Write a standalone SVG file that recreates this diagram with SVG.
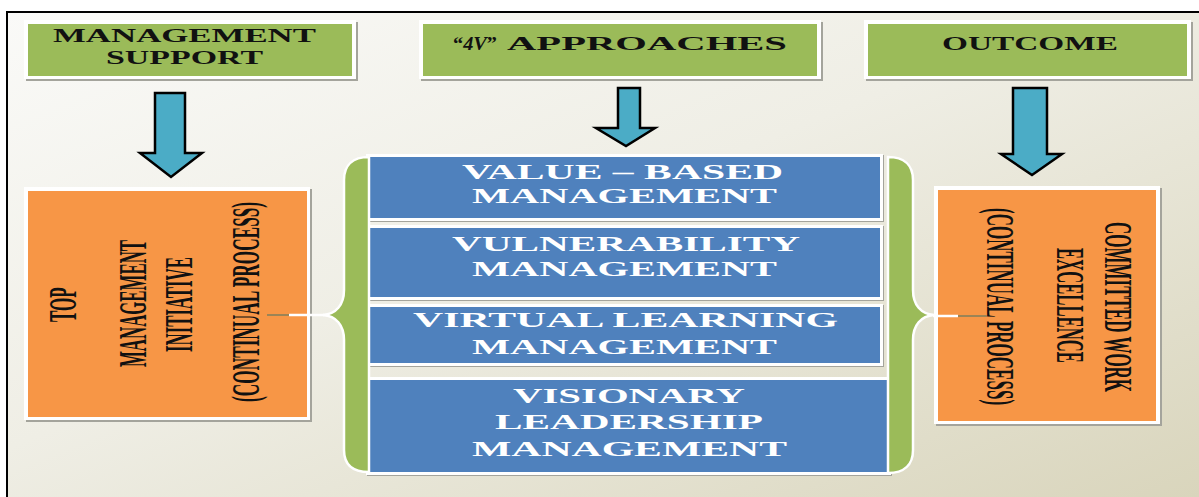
<svg xmlns="http://www.w3.org/2000/svg" width="1199" height="497" viewBox="0 0 1199 497">
  <defs>
    <linearGradient id="bg" x1="0" y1="0" x2="1" y2="1">
      <stop offset="0" stop-color="#fafaf8"/>
      <stop offset="0.45" stop-color="#efeee5"/>
      <stop offset="1" stop-color="#d9d5bc"/>
    </linearGradient>
    <style>
      .shadow { fill: #a4a49c; }
      .rim { fill: #ffffff; }
      .green { fill: #9bbb59; }
      .orange { fill: #f79646; }
      .blue { fill: #4f81bd; }
      .hdr { font-family: "Liberation Serif", "Times New Roman", serif; font-weight: bold; font-size: 19px; fill: #111111; }
      .app { font-family: "Liberation Serif", "Times New Roman", serif; font-weight: bold; font-size: 21px; fill: #ffffff; }
      .vert { font-family: "Liberation Serif", "Times New Roman", serif; font-weight: bold; font-size: 39px; fill: #111111; }
      .arrow { fill: #4bacc6; stroke: #000000; stroke-width: 2.5; stroke-linejoin: miter; }
      .brace { fill: #9bbb59; stroke: #ffffff; stroke-width: 2.5; }
    </style>
  </defs>

  <!-- page background and frame -->
  <rect x="0" y="0" width="1199" height="497" fill="#ffffff"/>
  <rect x="7" y="12" width="1192" height="485" fill="url(#bg)"/>
  <path d="M7,497 L7,12 L1199,12" fill="none" stroke="#000000" stroke-width="2"/>

  <!-- column headers -->
  <g id="header-management-support">
    <rect class="shadow" x="26" y="22" width="332" height="59"/>
    <rect class="rim" x="24" y="20" width="332" height="59"/>
    <rect class="green" x="28" y="24" width="324" height="52"/>
    <text class="hdr" x="53" y="42" textLength="263" lengthAdjust="spacingAndGlyphs">MANAGEMENT</text>
    <text class="hdr" x="106" y="64" textLength="157" lengthAdjust="spacingAndGlyphs">SUPPORT</text>
  </g>
  <g id="header-4v-approaches">
    <rect class="shadow" x="421" y="22" width="402" height="59"/>
    <rect class="rim" x="419" y="20" width="402" height="59"/>
    <rect class="green" x="423" y="24" width="394" height="52"/>
    <text class="hdr" x="453" y="50" textLength="44" lengthAdjust="spacingAndGlyphs">“<tspan font-style="italic">4V</tspan>”</text>
    <text class="hdr" x="507" y="50" textLength="280" lengthAdjust="spacingAndGlyphs">APPROACHES</text>
  </g>
  <g id="header-outcome">
    <rect class="shadow" x="866" y="22" width="327" height="59"/>
    <rect class="rim" x="864" y="20" width="327" height="59"/>
    <rect class="green" x="868" y="24" width="319" height="52"/>
    <text class="hdr" x="942" y="50" textLength="176" lengthAdjust="spacingAndGlyphs">OUTCOME</text>
  </g>

  <!-- downward arrows -->
  <g id="arrows">
    <polygon class="arrow" points="155,93 185,93 185,153 202,153 171,177 140,153 155,153"/>
    <polygon class="arrow" points="618,88 640,88 640,128 655,128 626,146 596,128 618,128"/>
    <polygon class="arrow" points="1013,88 1047,88 1047,154 1062,154 1032,175 1001,154 1013,154"/>
  </g>

  <!-- left node: top management initiative (condensed vertical type) -->
  <g id="node-top-management">
    <rect class="shadow" x="26" y="189" width="286" height="233"/>
    <rect class="rim" x="24" y="187" width="286" height="233"/>
    <rect class="orange" x="28" y="191" width="279" height="226"/>
    <text class="vert" transform="translate(76 322) rotate(-90) scale(0.435 1)" textLength="80" lengthAdjust="spacingAndGlyphs">TOP</text>
    <text class="vert" transform="translate(146 367) rotate(-90) scale(0.435 1)" textLength="292" lengthAdjust="spacingAndGlyphs">MANAGEMENT</text>
    <text class="vert" transform="translate(192 352) rotate(-90) scale(0.435 1)" textLength="218" lengthAdjust="spacingAndGlyphs">INITIATIVE</text>
    <text class="vert" transform="translate(259 402) rotate(-90) scale(0.435 1)" textLength="460" lengthAdjust="spacingAndGlyphs">(CONTINUAL PROCESS)</text>
  </g>

  <!-- right node: committed work excellence -->
  <g id="node-committed-work">
    <rect class="shadow" x="936" y="188" width="226" height="238"/>
    <rect class="rim" x="934" y="186" width="226" height="238"/>
    <rect class="orange" x="938" y="190" width="218" height="231"/>
    <text class="vert" transform="translate(1105 222) rotate(90) scale(0.435 1)" textLength="391" lengthAdjust="spacingAndGlyphs">COMMITTED WORK</text>
    <text class="vert" transform="translate(1057 248) rotate(90) scale(0.435 1)" textLength="264" lengthAdjust="spacingAndGlyphs">EXCELLENCE</text>
    <text class="vert" transform="translate(987 208) rotate(90) scale(0.435 1)" textLength="453" lengthAdjust="spacingAndGlyphs">(CONTINUAL PROCESS)</text>
  </g>

  <!-- the four V approaches -->
  <g id="node-value-based">
    <rect class="shadow" x="367" y="155" width="517" height="67"/>
    <rect class="rim" x="366" y="154" width="517" height="67"/>
    <rect class="blue" x="369" y="157" width="511" height="61"/>
    <text class="app" x="462" y="179" textLength="321" lengthAdjust="spacingAndGlyphs">VALUE – BASED</text>
    <text class="app" x="472" y="202.5" textLength="305" lengthAdjust="spacingAndGlyphs">MANAGEMENT</text>
  </g>
  <g id="node-vulnerability">
    <rect class="shadow" x="367" y="226" width="517" height="75"/>
    <rect class="rim" x="366" y="225" width="517" height="75"/>
    <rect class="blue" x="369" y="228" width="511" height="69"/>
    <text class="app" x="452" y="251" textLength="348" lengthAdjust="spacingAndGlyphs">VULNERABILITY</text>
    <text class="app" x="472" y="276" textLength="305" lengthAdjust="spacingAndGlyphs">MANAGEMENT</text>
  </g>
  <g id="node-virtual-learning">
    <rect class="shadow" x="367" y="305" width="517" height="62"/>
    <rect class="rim" x="366" y="304" width="517" height="62"/>
    <rect class="blue" x="369" y="307" width="511" height="56"/>
    <text class="app" x="413" y="327" textLength="425" lengthAdjust="spacingAndGlyphs">VIRTUAL LEARNING</text>
    <text class="app" x="472" y="354" textLength="305" lengthAdjust="spacingAndGlyphs">MANAGEMENT</text>
  </g>
  <g id="node-visionary-leadership">
    <rect class="shadow" x="367" y="378" width="525" height="98"/>
    <rect class="rim" x="366" y="377" width="525" height="98"/>
    <rect class="blue" x="369" y="380" width="519" height="92"/>
    <text class="app" x="513" y="403" textLength="232" lengthAdjust="spacingAndGlyphs">VISIONARY</text>
    <text class="app" x="495" y="429" textLength="268" lengthAdjust="spacingAndGlyphs">LEADERSHIP</text>
    <text class="app" x="472" y="456" textLength="315" lengthAdjust="spacingAndGlyphs">MANAGEMENT</text>
  </g>

  <!-- braces and leader lines tying the side nodes to the approaches -->
  <g id="connectors">
    <path class="brace" d="M369,157 C353,157 344,165 344,180 L344,290 C344,305 336,314 323,315 C336,316 344,325 344,340 L344,450 C344,465 353,472 369,472 Z"/>
    <path class="brace" d="M888,157 C904,157 913,165 913,180 L913,290 C913,305 921,314 934,315 C921,316 913,325 913,340 L913,450 C913,465 904,473 888,473 Z"/>
    <line x1="267" y1="315" x2="289" y2="315" stroke="#9c8456" stroke-width="2"/>
    <line x1="289" y1="315" x2="324" y2="315" stroke="#ffffff" stroke-width="2.5"/>
    <line x1="933" y1="316" x2="958" y2="316" stroke="#ffffff" stroke-width="2.5"/>
    <line x1="958" y1="316" x2="987" y2="316" stroke="#9c8456" stroke-width="2"/>
  </g>
</svg>
